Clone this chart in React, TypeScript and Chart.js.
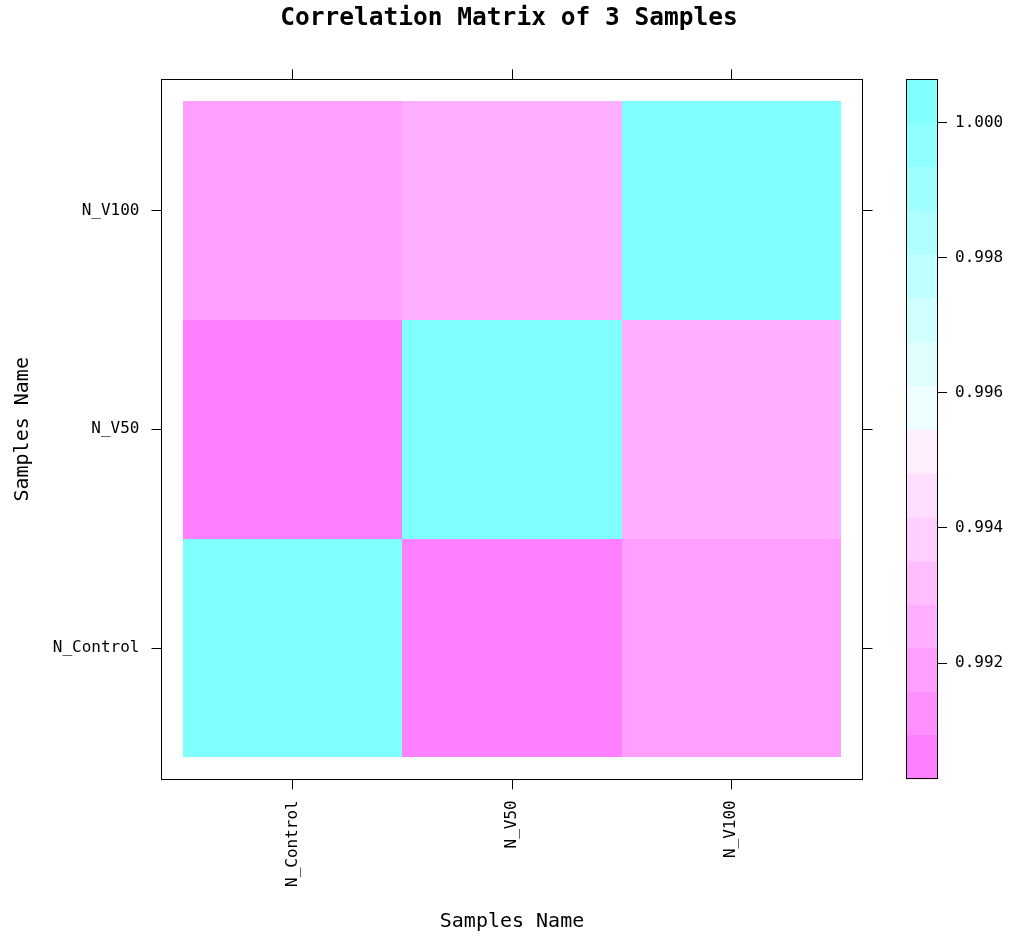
import React, { useEffect, useRef } from "react";
import { Chart, registerables } from "chart.js";

Chart.register(...registerables);

// ---- data ----
const samples = ["N_Control", "N_V50", "N_V100"];
// correlation of each row sample (y) against the column samples (x)
const rowControl = [1.0, 0.9906, 0.9919];
const rowV50 = [0.9906, 1.0, 0.9926];
const rowV100 = [0.9919, 0.9926, 1.0];
const matrix = [rowControl, rowV50, rowV100];

// colour-key levels (17 breaks -> 16 bands)
const levelBreaks = [
  0.99028, 0.99093, 0.99157, 0.99222, 0.99286, 0.9935, 0.99415, 0.9948,
  0.99545, 0.9961, 0.99674, 0.99739, 0.99804, 0.99869, 0.99934, 0.99999,
  1.00064,
];
const keyTicks = [0.992, 0.994, 0.996, 0.998, 1.0];
const axisTicks = [1, 2, 3];

// palette (low -> high), cm.colors reversed
const palette = [
  "#FF80FF", "#FF8FFF", "#FF9FFF", "#FFAFFF", "#FFBFFF", "#FFCFFF", "#FFDFFF", "#FFEFFF",
  "#EFFFFF", "#DFFFFF", "#CFFFFF", "#BFFFFF", "#AFFFFF", "#9FFFFF", "#8FFFFF", "#80FFFF",
];

const FONT = "'DejaVu Sans Mono', monospace";
const tickFont = { family: FONT, size: 16 };
const W = 1018;
const H = 939;

function colorFor(v: number): string {
  for (let k = 0; k < palette.length; k++) {
    if (v >= levelBreaks[k] && v < levelBreaks[k + 1]) return palette[k];
  }
  return v < levelBreaks[0] ? palette[0] : palette[palette.length - 1];
}

const setAxisTicks = (scale: any) => {
  scale.ticks = axisTicks.map((v) => ({ value: v }));
};
const sampleLabel = (v: any) => samples[Math.round(Number(v)) - 1] ?? "";

const gridOpts = { drawOnChartArea: false, tickLength: 10, color: "#000", lineWidth: 1 };
const borderOpts = { display: true, color: "#000", width: 1 };

const cellPlugin = {
  id: "cells",
  beforeDatasetsDraw(chart: any) {
    const { ctx } = chart;
    const xs = chart.scales.x;
    const ys = chart.scales.y;
    ctx.save();
    matrix.forEach((row, j) => {
      row.forEach((v, i) => {
        const x0 = Math.round(xs.getPixelForValue(i + 0.5));
        const x1 = Math.round(xs.getPixelForValue(i + 1.5));
        const y0 = Math.round(ys.getPixelForValue(j + 1.5));
        const y1 = Math.round(ys.getPixelForValue(j + 0.5));
        ctx.fillStyle = colorFor(v);
        ctx.fillRect(x0, y0, x1 - x0, y1 - y0);
      });
    });
    ctx.restore();
  },
};

const keyFramePlugin = {
  id: "keyFrame",
  afterDatasetsDraw(chart: any) {
    const { ctx, chartArea: a } = chart;
    ctx.save();
    ctx.strokeStyle = "#000";
    ctx.lineWidth = 1;
    ctx.strokeRect(Math.round(a.left) + 0.5, Math.round(a.top) + 0.5, Math.round(a.right - a.left) - 1, Math.round(a.bottom - a.top) - 1);
    ctx.restore();
  },
};

const TITLE_SIZE = 24.5;
const TITLE_PAD_TOP = 4;
const PANEL_TOP = 79.3;
const PANEL_BOTTOM = 779.3;
const PANEL_LEFT = 161.5;
const PANEL_RIGHT = 862.5;

export default function App() {
  const mainRef = useRef<HTMLCanvasElement>(null);
  const keyRef = useRef<HTMLCanvasElement>(null);

  useEffect(() => {
    const titleH = TITLE_SIZE * 1.2 + TITLE_PAD_TOP;
    const main = new Chart(mainRef.current as HTMLCanvasElement, {
      type: "scatter",
      data: { datasets: [] },
      options: {
        animation: false,
        responsive: false,
        layout: { padding: 0 },
        plugins: {
          legend: { display: false },
          tooltip: { enabled: false },
          title: {
            display: true,
            text: "Correlation Matrix of 3 Samples",
            color: "#000",
            font: { family: FONT, size: TITLE_SIZE, weight: "bold" },
            padding: { top: TITLE_PAD_TOP, bottom: 0 },
          },
        },
        scales: {
          x: {
            type: "linear",
            position: "bottom",
            min: 0.4,
            max: 3.6,
            afterBuildTicks: setAxisTicks,
            ticks: { callback: sampleLabel, font: tickFont, color: "#000", minRotation: 90, maxRotation: 90, padding: 11, autoSkip: false },
            grid: gridOpts,
            border: borderOpts,
            title: { display: true, text: "Samples Name", color: "#000", font: { family: FONT, size: 20 }, padding: { top: 0, bottom: 5 } },
            afterFit: (s: any) => { s.height = H - PANEL_BOTTOM; },
          },
          xTop: {
            type: "linear",
            position: "top",
            min: 0.4,
            max: 3.6,
            afterBuildTicks: setAxisTicks,
            ticks: { display: false },
            grid: gridOpts,
            border: borderOpts,
            afterFit: (s: any) => { s.height = PANEL_TOP - titleH; },
          },
          y: {
            type: "linear",
            position: "left",
            min: 0.4,
            max: 3.6,
            afterBuildTicks: setAxisTicks,
            ticks: { callback: sampleLabel, font: tickFont, color: "#000", padding: 12, autoSkip: false },
            grid: gridOpts,
            border: borderOpts,
            title: { display: true, text: "Samples Name", color: "#000", font: { family: FONT, size: 20 }, padding: { top: 11, bottom: 0 } },
            afterFit: (s: any) => { s.width = PANEL_LEFT; },
          },
          yRight: {
            type: "linear",
            position: "right",
            min: 0.4,
            max: 3.6,
            afterBuildTicks: setAxisTicks,
            ticks: { display: false },
            grid: gridOpts,
            border: borderOpts,
            afterFit: (s: any) => { s.width = W - PANEL_RIGHT; },
          },
        },
      } as any,
      plugins: [cellPlugin],
    });

    const key = new Chart(keyRef.current as HTMLCanvasElement, {
      type: "bar",
      data: {
        labels: ["key"],
        datasets: palette.map((c, k) => ({
          data: [[levelBreaks[k], levelBreaks[k + 1]]],
          backgroundColor: c,
          borderWidth: 0,
          grouped: false,
          barPercentage: 1,
          categoryPercentage: 1,
        })) as any,
      },
      options: {
        animation: false,
        responsive: false,
        layout: { padding: { left: 906, top: 79.3, bottom: H - 779.3, right: 0 } },
        plugins: { legend: { display: false }, tooltip: { enabled: false }, title: { display: false } },
        scales: {
          x: { display: false },
          y: {
            type: "linear",
            position: "right",
            min: levelBreaks[0],
            max: levelBreaks[levelBreaks.length - 1],
            afterBuildTicks: (s: any) => { s.ticks = keyTicks.map((v) => ({ value: v })); },
            ticks: { callback: (v: any) => Number(v).toFixed(3), font: tickFont, color: "#000", padding: 8 },
            grid: { drawOnChartArea: false, tickLength: 9, color: "#000", lineWidth: 1 },
            border: { display: false },
            afterFit: (s: any) => { s.width = W - 938; },
          },
        },
      } as any,
      plugins: [keyFramePlugin],
    });

    return () => {
      main.destroy();
      key.destroy();
    };
  }, []);

  return (
    <div style={{ position: "fixed", left: 0, top: 0, width: W, height: H, background: "#fff" }}>
      <canvas ref={mainRef} width={W} height={H} style={{ position: "absolute", left: 0, top: 0, display: "block" }} />
      <canvas ref={keyRef} width={W} height={H} style={{ position: "absolute", left: 0, top: 0, display: "block" }} />
    </div>
  );
}
